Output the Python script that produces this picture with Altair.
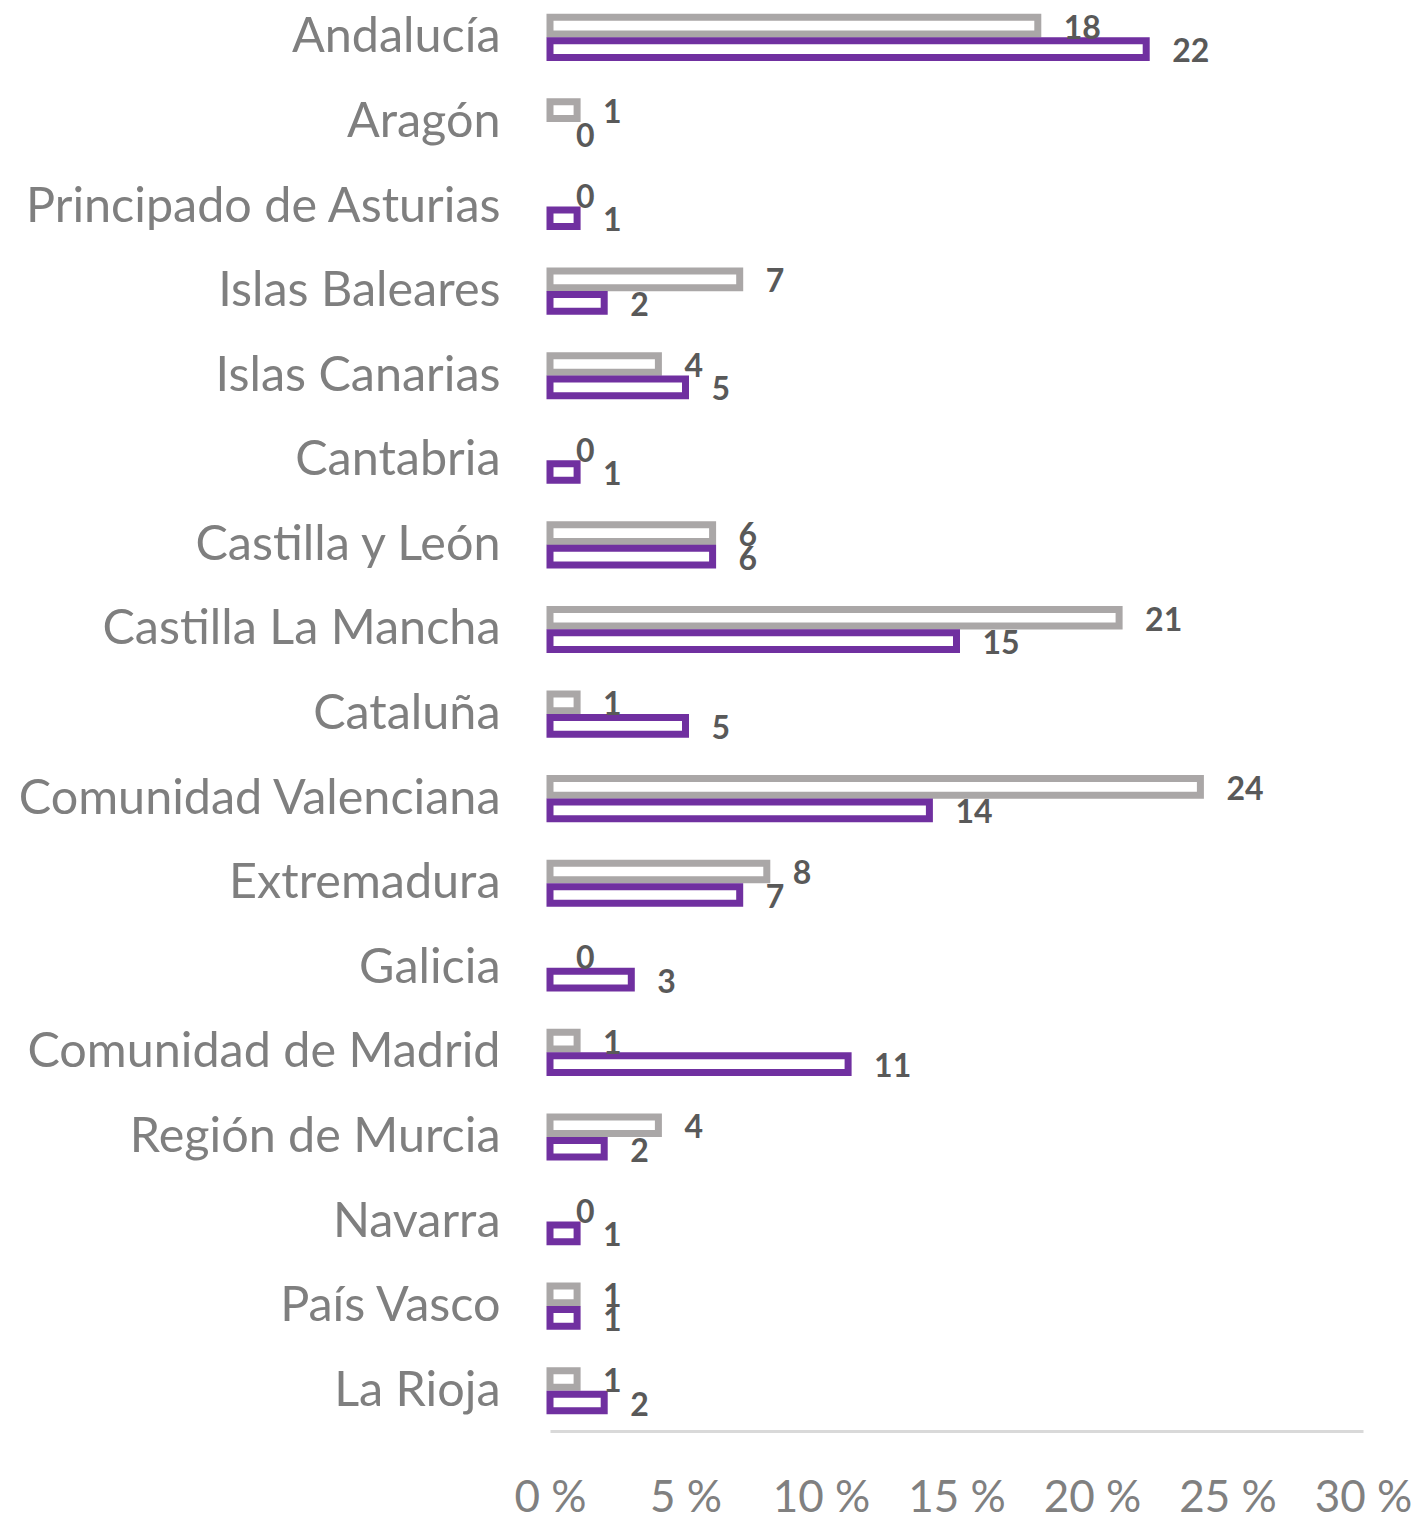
import altair as alt
import pandas as pd

regions = [
    "Andalucía", "Aragón", "Principado de Asturias", "Islas Baleares",
    "Islas Canarias", "Cantabria", "Castilla y León", "Castilla La Mancha",
    "Cataluña", "Comunidad Valenciana", "Extremadura", "Galicia",
    "Comunidad de Madrid", "Región de Murcia", "Navarra", "País Vasco", "La Rioja",
]
series_names = ["Serie 1", "Serie 2"]
gray_values = [18, 1, 0, 7, 4, 0, 6, 21, 1, 24, 8, 0, 1, 4, 0, 1, 1]
purple_values = [22, 0, 1, 2, 5, 1, 6, 15, 5, 14, 7, 3, 11, 2, 1, 1, 2]
x_ticks = [0, 5, 10, 15, 20, 25, 30]

rows = []
for r, g, p in zip(regions, gray_values, purple_values):
    rows.append({"region": r, "serie": series_names[0], "valor": g})
    rows.append({"region": r, "serie": series_names[1], "valor": p})
df = pd.DataFrame(rows)

FONT = "Lato"

y_enc = alt.Y(
    "region:N",
    sort=regions,
    scale=alt.Scale(paddingInner=0.445, paddingOuter=0.11, align=0.1),
    axis=alt.Axis(
        title=None, domain=False, ticks=False, labelPadding=50,
        labelFont=FONT, labelFontSize=48.5, labelColor="#7f7f7f",
        labelLimit=700, labelOverlap=False, labelAlign="right",
        labelBaseline="middle",
    ),
)
yoff_enc = alt.YOffset(
    "serie:N", sort=series_names,
    scale=alt.Scale(paddingInner=0.29, paddingOuter=0.145),
)
x_enc = alt.X(
    "valor:Q",
    scale=alt.Scale(domain=[0, 30], nice=False),
    axis=alt.Axis(
        title=None, values=x_ticks, labelExpr="datum.value + ' %'",
        grid=False, ticks=False, tickSize=0, domainColor="#d9d9d9", domainWidth=3,
        labelFont=FONT, labelFontSize=44, labelColor="#808080",
        labelPadding=45, labelFlush=False, labelOverlap=False,
    ),
)

bars = alt.Chart(df).mark_bar(fill="white", strokeWidth=7).encode(
    x=x_enc,
    y=y_enc,
    yOffset=yoff_enc,
    stroke=alt.Stroke(
        "serie:N",
        scale=alt.Scale(domain=series_names, range=["#aaa7a7", "#7030a0"]),
        legend=None,
    ),
    strokeOpacity=alt.condition(alt.datum.valor == 0, alt.value(0), alt.value(1)),
)

labels = alt.Chart(df).mark_text(
    align="left", baseline="middle", dx=26, dy=3, font=FONT, fontSize=32,
    fontWeight="bold", color="#595959",
).encode(
    x=alt.X("valor:Q"),
    y=alt.Y("region:N", sort=regions),
    yOffset=alt.YOffset("serie:N", sort=series_names),
    text=alt.Text("valor:Q"),
)

chart = alt.layer(bars, labels).properties(
    width=813,
    height=1419,
    autosize=alt.AutoSizeParams(type="none"),
    padding={"left": 542, "top": 4, "right": 50, "bottom": 100},
).configure_view(stroke=None)

chart.save("out.html", embed_options={"renderer": "svg", "actions": False})
